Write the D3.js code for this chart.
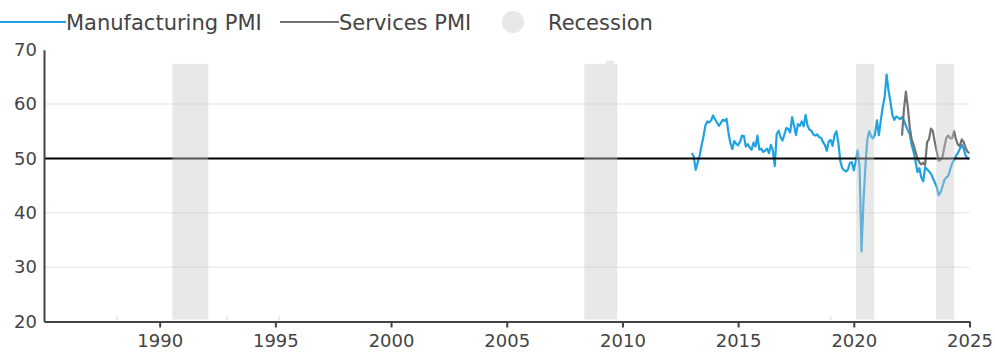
<!DOCTYPE html>
<html>
<head>
<meta charset="utf-8">
<script src="https://cdn.jsdelivr.net/npm/d3@7"></script>
<style>
  html, body { margin: 0; padding: 0; background: #fff; }
  svg { display: block; font-family: "DejaVu Sans", Verdana, sans-serif; }
</style>
</head>
<body>
<svg id="chart" width="995" height="355"></svg>
<script>
// Monthly PMI readings, starting January 2013
const startYear = 2013;
const manufacturingPMI = [
  51.0, 50.3, 47.9, 49.2, 50.5, 52.3, 54.0, 56.0, 56.8, 56.6, 57.0, 57.9,
  57.2, 56.6, 56.0, 56.5, 57.1, 56.9, 57.3, 54.7, 52.8, 51.7, 53.2, 52.7,
  52.4, 53.1, 54.2, 54.1, 52.2, 52.6, 52.0, 51.6, 52.9, 52.2, 54.2, 51.6,
  51.8, 51.2, 51.4, 51.8, 51.0, 52.5, 51.5, 48.6, 54.5, 55.1, 53.9, 53.3,
  54.4, 55.6, 55.4, 54.8, 57.6, 56.0, 54.3, 56.3, 56.0, 56.8, 55.9, 58.0,
  56.0, 55.3, 55.1, 54.4, 54.2, 54.4, 53.9, 53.8, 53.0, 52.5, 51.4, 53.1,
  53.4, 52.3, 54.3, 55.0, 52.8, 49.5, 48.2, 47.8, 47.6, 48.0, 49.2, 49.3,
  47.8, 49.5, 51.5, 48.4, 32.9, 42.0, 48.5, 53.5, 55.0, 54.0, 53.7, 54.5,
  57.0, 54.3, 57.0, 59.5, 61.3, 65.4, 62.5, 60.4, 58.0, 57.1, 57.7, 57.5,
  57.2, 57.6, 57.0, 56.0, 55.2, 54.5, 52.5, 51.2, 49.5, 47.5, 48.2, 46.5,
  45.8, 48.4, 48.0, 47.6, 47.2, 46.4, 45.6, 44.8, 43.2, 43.8, 44.8, 46.1,
  46.5, 46.8, 48.0, 49.1, 49.7, 50.5, 51.0, 51.8, 52.5, 51.8, 50.5, 50.0,
  50.0
];
// Services series begins February 2022 (month index 109)
const servicesStartIndex = 109;
const servicesPMI = [
  54.2, 59.0, 62.3, 59.5, 55.8, 53.5, 52.5, 51.2, 50.0, 49.3, 48.9,
  49.2, 48.8, 53.0, 53.5, 55.5, 55.0, 53.0, 51.3, 49.6, 49.7, 50.3, 52.2,
  53.8, 54.2, 53.7, 53.7, 55.0, 53.5, 52.5, 52.3, 53.5, 53.0, 51.9, 51.2,
  51.0
];
// Recession periods (decimal years) and shading height
const recessionStarts = [1990.55, 2008.35, 2020.1, 2023.56];
const recessionEnds   = [1992.1, 2009.78, 2020.88, 2024.34];
const recessionTop = 67.4;
const recessionCap = { start: 2009.3, end: 2009.65, top: 67.95 };
const faintMarkYears = [1988.15, 1992.9, 1995.15, 2019.0];

const xTicks = [1990, 1995, 2000, 2005, 2010, 2015, 2020, 2025];
const yTicks = [20, 30, 40, 50, 60, 70];
const gridValues = [30, 40, 60];
const thresholdValue = 50;

const legendItems = ["Manufacturing PMI", "Services PMI", "Recession"];

const colors = { mfg: "#1ea2e3", svc: "#737373", band: "#c8c8c8", text: "#444" };

const svg = d3.select("#chart");
const x = d3.scaleLinear().domain([1985, 2025]).range([44, 969.5]);
const y = d3.scaleLinear().domain([20, 70]).range([321.5, 49.7]);

const mfgData = manufacturingPMI.map((v, i) => ({ t: startYear + i / 12, v }));
const svcData = servicesPMI.map((v, i) => ({ t: startYear + (servicesStartIndex + i) / 12, v }));

// Horizontal gridlines
svg.append("g").selectAll("line").data(gridValues).join("line")
  .attr("x1", x(1985)).attr("x2", x(2025))
  .attr("y1", d => y(d)).attr("y2", d => y(d))
  .attr("stroke", "#ececec").attr("stroke-width", 1.5);

// Faint marks sitting on the baseline
svg.append("g").selectAll("line").data(faintMarkYears).join("line")
  .attr("x1", d => x(d)).attr("x2", d => x(d))
  .attr("y1", y(20) - 5).attr("y2", y(20) - 1)
  .attr("stroke", "#dedede").attr("stroke-width", 1.5);

const line = d3.line().x(d => x(d.t)).y(d => y(d.v));

svg.append("path").datum(mfgData)
  .attr("d", line).attr("fill", "none")
  .attr("stroke", colors.mfg).attr("stroke-width", 2.2).attr("stroke-linejoin", "round");

svg.append("path").datum(svcData)
  .attr("d", line).attr("fill", "none")
  .attr("stroke", colors.svc).attr("stroke-width", 2.2).attr("stroke-linejoin", "round");

// 50 threshold line
svg.append("line")
  .attr("x1", x(1985)).attr("x2", x(2025))
  .attr("y1", y(thresholdValue)).attr("y2", y(thresholdValue))
  .attr("stroke", "#000").attr("stroke-width", 2);

// Recession shading drawn over the series
const bands = recessionStarts.map((s, i) => ({ start: s, end: recessionEnds[i], top: recessionTop, bottom: 20 }));
svg.append("g").selectAll("rect").data(bands).join("rect")
  .attr("x", d => x(d.start))
  .attr("width", d => x(d.end) - x(d.start))
  .attr("y", d => y(d.top))
  .attr("height", d => y(20) - 2 - y(d.top))
  .attr("fill", colors.band).attr("fill-opacity", 0.42);

// Small raised notch on top of the 2008 band
svg.append("rect")
  .attr("x", x(recessionCap.start))
  .attr("width", x(recessionCap.end) - x(recessionCap.start))
  .attr("y", y(recessionCap.top))
  .attr("height", y(recessionTop) - y(recessionCap.top))
  .attr("fill", colors.band).attr("fill-opacity", 0.42);

// X axis
const xAxis = svg.append("g")
  .attr("transform", `translate(0,${y(20)})`)
  .call(d3.axisBottom(x).tickValues(xTicks).tickFormat(d3.format("d")).tickSize(6).tickPadding(7).tickSizeOuter(0));
xAxis.select(".domain").attr("stroke", "#444").attr("stroke-width", 2);
xAxis.selectAll(".tick line").attr("stroke", "#444").attr("stroke-width", 2);
xAxis.selectAll("text").attr("fill", colors.text).style("font-size", "18px")
  .style("font-family", "'DejaVu Sans', sans-serif");

// Y axis
const yAxis = svg.append("g")
  .attr("transform", `translate(${x(1985)},0)`)
  .call(d3.axisLeft(y).tickValues(yTicks).tickSize(0).tickPadding(7).tickSizeOuter(0));
yAxis.select(".domain").attr("stroke", "#444").attr("stroke-width", 2);
yAxis.selectAll("text").attr("fill", colors.text).style("font-size", "18px")
  .style("font-family", "'DejaVu Sans', sans-serif");

// Legend
const legend = svg.append("g").style("font-size", "21px").attr("fill", colors.text);
legend.append("line").attr("x1", 0).attr("x2", 66).attr("y1", 22).attr("y2", 22)
  .attr("stroke", colors.mfg).attr("stroke-width", 2);
legend.append("text").attr("x", 66).attr("y", 30).text(legendItems[0]);
legend.append("line").attr("x1", 280).attr("x2", 339).attr("y1", 22).attr("y2", 22)
  .attr("stroke", colors.svc).attr("stroke-width", 2);
legend.append("text").attr("x", 339).attr("y", 30).text(legendItems[1]);
legend.append("circle").attr("cx", 513).attr("cy", 22).attr("r", 11).attr("fill", "#e8e8e8");
legend.append("text").attr("x", 548).attr("y", 30).text(legendItems[2]);
</script>
</body>
</html>
